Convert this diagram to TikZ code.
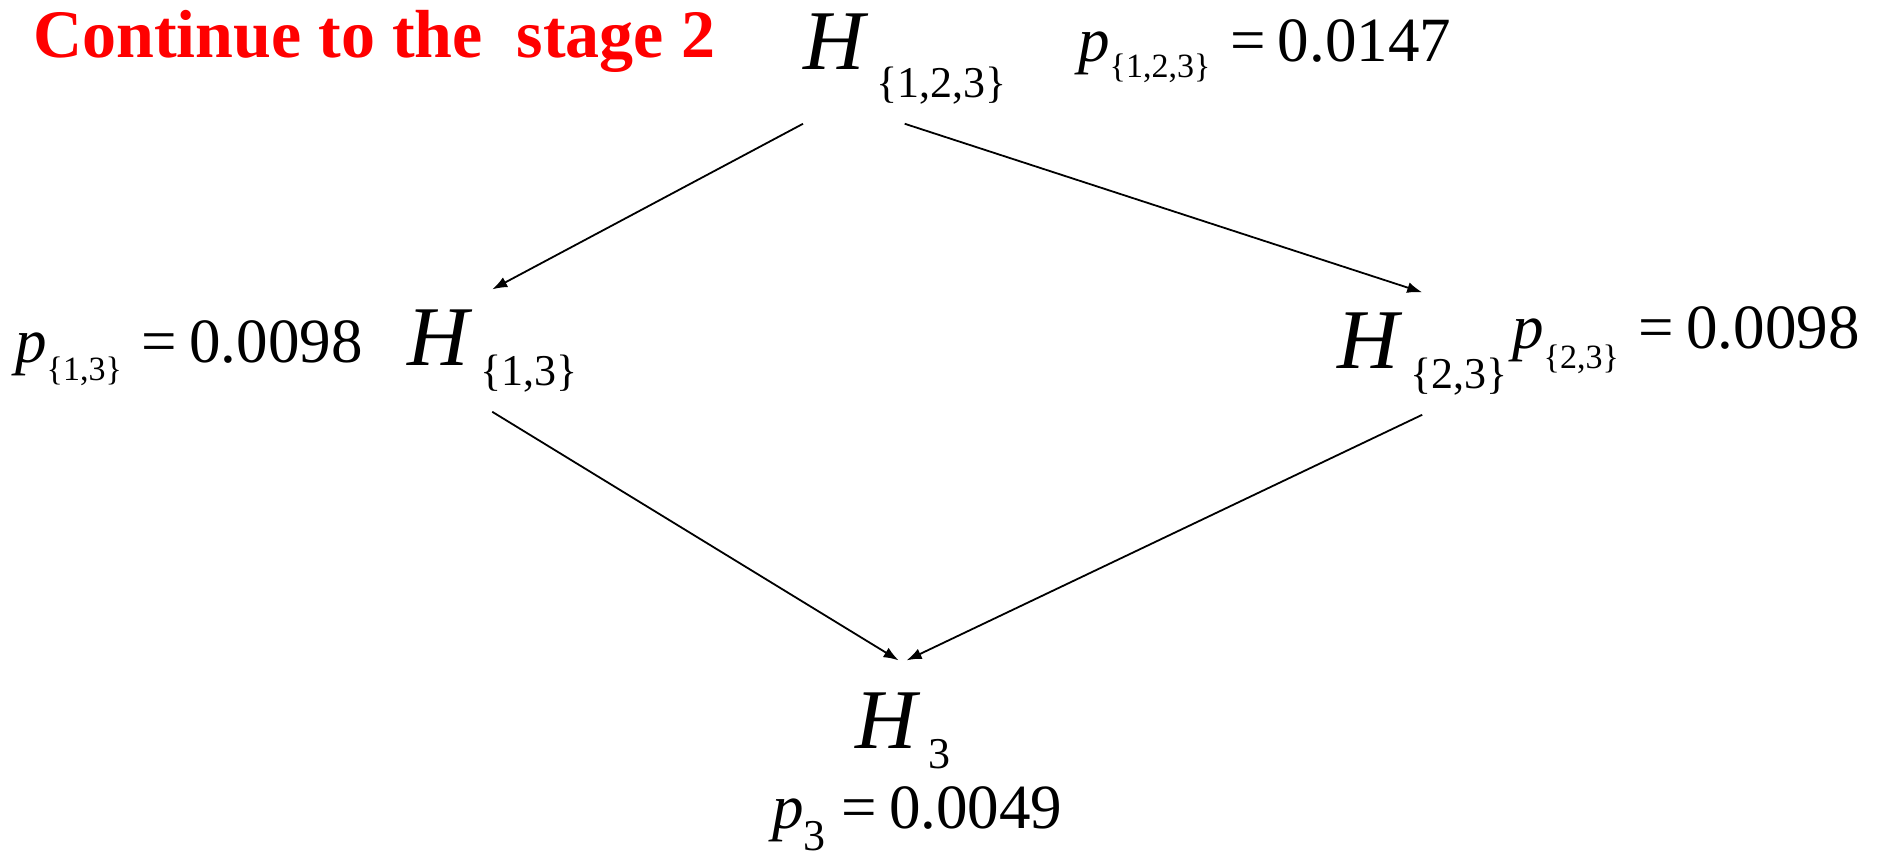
\documentclass[tikz,border=0pt]{standalone}
\usepackage{fontspec}
\setmainfont{Liberation Serif}
\usepackage{xcolor}
\usetikzlibrary{arrows.meta}

\newcommand{\Hlab}[2]{\textit{H}\hspace{8pt}\raisebox{-#2}{\fontsize{44}{44}\selectfont #1}}
\newcommand{\plab}[3]{\textit{p}\raisebox{-#3}{\fontsize{34}{34}\selectfont #1}\hspace{20pt}=\hspace{12pt}#2}

\begin{document}
\begin{tikzpicture}[x=1pt,y=-1pt,
  hnode/.style={inner sep=0pt,outer xsep=0pt,outer ysep=20pt,anchor=base west,font=\fontsize{85}{85}\selectfont},
  pnode/.style={inner sep=0pt,anchor=base west,font=\fontsize{63}{63}\selectfont},
  arr/.style={line width=1.8pt,-{Latex[length=15pt,width=11pt]}}]
\useasboundingbox (0,0) rectangle (1878,852);
\node[inner sep=0pt,anchor=base west,text=red,font=\fontsize{68}{68}\selectfont\bfseries] (title) at (33,57) {Continue to the\ \ stage 2};
% hypotheses
\node[hnode] (h123) at (803,69) {\Hlab{\{1,2,3\}}{28pt}};
\node[hnode] (h13) at (407,365) {\Hlab{\{1,3\}}{20pt}};
\node[hnode] (h23) at (1337,368) {\Hlab{\{2,3\}}{20pt}};
\node[hnode] (h3) at (855,748) {\textit{H}\hspace{8pt}\raisebox{-20pt}{\fontsize{44}{44}\selectfont 3}};
% p-values
\node[pnode] (p123) at (1078,61) {\plab{\{1,2,3\}}{0.0147}{16pt}};
\node[pnode] (p13) at (15,362) {\plab{\{1,3\}}{0.0098}{18pt}};
\node[pnode] (p23) at (1512,348) {\plab{\{2,3\}}{0.0098}{20pt}};
\node[pnode] (p3) at (772,828) {\textit{p}\raisebox{-22pt}{\fontsize{44}{44}\selectfont 3}\hspace{16pt}=\hspace{12pt}0.0049};
\draw[arr] (h123.south west) -- (h13.north);
\draw[arr] (h123.south) -- (h23.north);
\draw[arr] (h13.south) -- ([xshift=-4pt,yshift=12pt]h3.north);
\draw[arr] (h23.south) -- ([xshift=4pt,yshift=12pt]h3.north);
\end{tikzpicture}
\end{document}
